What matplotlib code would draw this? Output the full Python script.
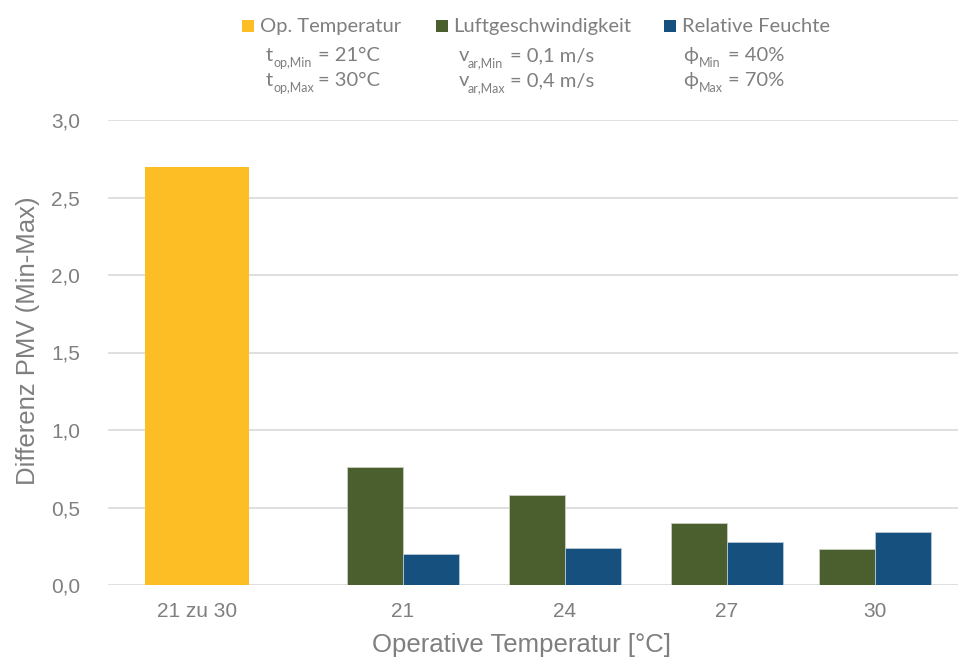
import matplotlib
matplotlib.use("Agg")
import matplotlib.pyplot as plt
from matplotlib.patches import Rectangle

# ---- data ----
categories = ["21 zu 30", "21", "24", "27", "30"]
op_temp = [2.70]                       # only first category
luft = [0.76, 0.58, 0.40, 0.23]        # categories 21,24,27,30
feuchte = [0.20, 0.24, 0.28, 0.34]
yticks = [0.0, 0.5, 1.0, 1.5, 2.0, 2.5, 3.0]
ytick_labels = ["0,0", "0,5", "1,0", "1,5", "2,0", "2,5", "3,0"]
series_names = ["Op. Temperatur", "Luftgeschwindigkeit", "Relative Feuchte"]
sym = ["t", "v", "ϕ"]
sub_min = ["op,Min", "ar,Min", "Min"]
sub_max = ["op,Max", "ar,Max", "Max"]
val_min = ["= 21°C", "= 0,1 m/s", "= 40%"]
val_max = ["= 30°C", "= 0,4 m/s", "= 70%"]

# ---- layout ----
W, H = 959, 662
centers = [197, 403, 565, 727, 875]    # pixel-like x units
wide_w = 104
bar_w = 56
col_yellow = "#FDBE25"
col_green = "#4A5E2E"
col_blue = "#15507F"
gray = "#7F7F7F"
grid = "#D9D9D9"
FAM = ["Lato", "DejaVu Sans"]

fig = plt.figure(figsize=(W / 100, H / 100), dpi=100)
ax = fig.add_axes([108 / W, 1 - 585 / H, (958 - 108) / W, (585 - 120) / H])
ax.set_xlim(108, 958)
ax.set_ylim(0, 3.0)

ax.bar(centers[0], op_temp[0], width=wide_w, color=col_yellow, zorder=3)
gc = centers[1:]
ax.bar([c - bar_w / 2 for c in gc], luft, width=bar_w, color=col_green,
       edgecolor="#C8CFC0", linewidth=0.6, zorder=3)
ax.bar([c + bar_w / 2 for c in gc], feuchte, width=bar_w, color=col_blue,
       edgecolor="#B9C8D8", linewidth=0.6, zorder=3)

for s in ax.spines.values():
    s.set_visible(False)
ax.set_yticks(yticks)
ax.set_yticklabels(ytick_labels)
ax.yaxis.grid(True, color=grid, linewidth=1.2, zorder=0)
ax.set_axisbelow(True)
ax.tick_params(axis="y", length=0, pad=20, labelsize=15, labelcolor=gray)
ax.set_xticks(centers)
ax.set_xticklabels(categories)
ax.tick_params(axis="x", length=0, pad=12, labelsize=15, labelcolor=gray)
for lab in ax.get_xticklabels() + ax.get_yticklabels():
    lab.set_fontfamily("Liberation Sans")

fig.text(521 / W, 1 - 645 / H, "Operative Temperatur [°C]", ha="center", va="center",
         fontsize=18.5, color=gray, family="Liberation Sans")
fig.text(28 / W, 1 - 341 / H, "Differenz PMV (Min-Max)", ha="center", va="center",
         rotation=90, fontsize=18.5, color=gray, family="Liberation Sans")

# ---- legend ----
sq_x = [242, 436, 664]
txt_x = [260, 453, 682]
sym_x = [266, 459, 683]
subs_x = [273, 468, 699]
eq_x = [318, 510, 728]
cols = [col_yellow, col_green, col_blue]


def px(x, y):
    return x / W, 1 - y / H


for i in range(3):
    fig.patches.append(Rectangle(px(sq_x[i], 32), 12 / W, 12 / H,
                                 transform=fig.transFigure, facecolor=cols[i],
                                 edgecolor="none"))
    fig.text(*px(txt_x[i], 32), series_names[i], ha="left", va="baseline",
             fontsize=14.5, color=gray, family=FAM)
    for base, sub, val in ((61, sub_min[i], val_min[i]), (86, sub_max[i], val_max[i])):
        fig.text(*px(sym_x[i], base), sym[i], ha="left", va="baseline",
                 fontsize=14.5, color=gray, family=FAM)
        fig.text(*px(subs_x[i], base + 6), sub, ha="left", va="baseline",
                 fontsize=9, color=gray, family=FAM)
        fig.text(*px(eq_x[i], base), val, ha="left", va="baseline",
                 fontsize=14.5, color=gray, family=FAM)

fig.savefig("out.png", dpi=100)
